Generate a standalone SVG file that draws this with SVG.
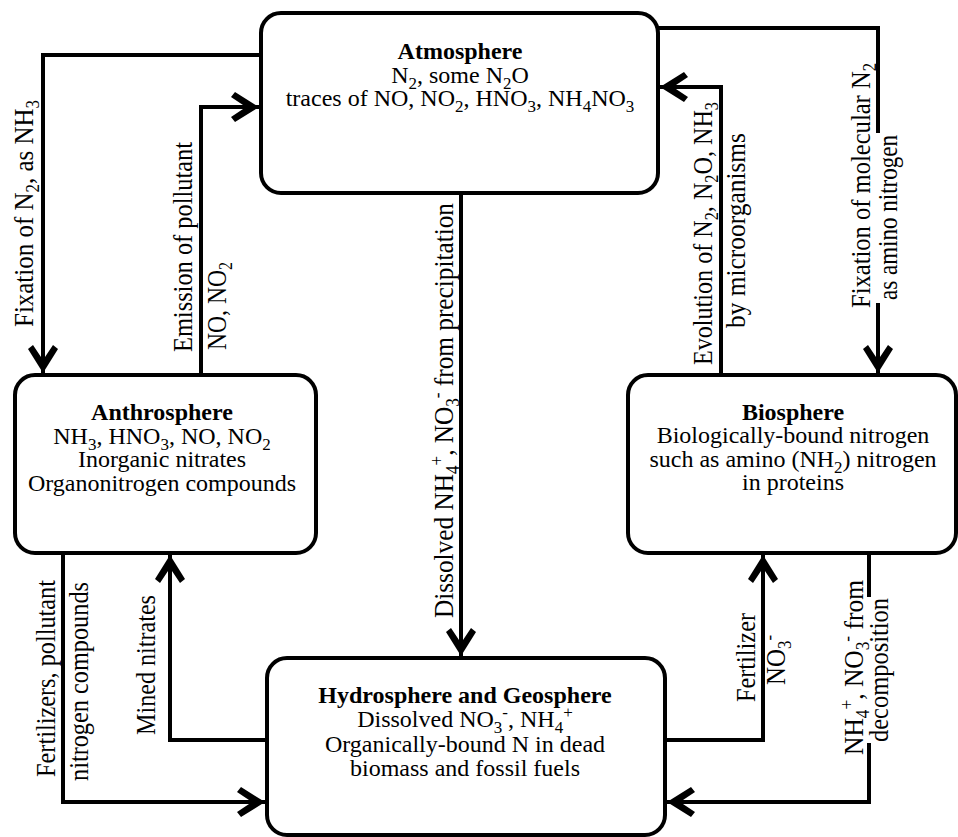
<svg xmlns="http://www.w3.org/2000/svg" width="958" height="837" viewBox="0 0 958 837">
<style>
.box{fill:#fff;stroke:#000;stroke-width:4}
.ttl{font-family:'Liberation Serif','Times New Roman','DejaVu Serif',serif;font-size:24px;font-weight:bold;text-anchor:middle;fill:#000}
.bt{font-family:'Liberation Serif','Times New Roman','DejaVu Serif',serif;font-size:24px;text-anchor:middle;fill:#000}
.con{fill:none;stroke:#000;stroke-width:4;stroke-linejoin:miter}
.lbl{font-family:'Liberation Serif','Times New Roman','DejaVu Serif',serif;font-size:28px;fill:#000}
.sub{font-size:17px;baseline-shift:-6px}
.sup{font-size:17px;baseline-shift:9px}
.lsub{font-size:19px;baseline-shift:-6px}
.lsup{font-size:19px;baseline-shift:10px}
</style>
<defs>
<marker id="ah" markerUnits="userSpaceOnUse" markerWidth="32" markerHeight="34" refX="30" refY="17" orient="auto" overflow="visible">
<path d="M30,17 L6,2 L2,7 L17,17 L2,27 L6,32 Z" fill="#000"/>
</marker>
</defs>

<g id="connectors">
<path class="con" d="M261,55 H43 V373" marker-end="url(#ah)"/>
<path class="con" d="M201,375 V107 H259" marker-end="url(#ah)"/>
<path class="con" d="M658,28 H878 V373" marker-end="url(#ah)"/>
<path class="con" d="M721,375 V87 H660" marker-end="url(#ah)"/>
<path class="con" d="M461,193 V656" marker-end="url(#ah)"/>
<path class="con" d="M63,553 V802 H265" marker-end="url(#ah)"/>
<path class="con" d="M267,740 H170 V555" marker-end="url(#ah)"/>
<path class="con" d="M665,740 H763 V555" marker-end="url(#ah)"/>
<path class="con" d="M869,553 V802 H667" marker-end="url(#ah)"/>
</g>

<g id="atmosphere">
<rect class="box" x="261" y="13" width="397" height="180" rx="20"/>
<text class="ttl" x="460" y="59">Atmosphere</text>
<text class="bt" x="460" y="83">N<tspan class="sub">2</tspan>, some N<tspan class="sub">2</tspan>O</text>
<text class="bt" x="460" y="106">traces of NO, NO<tspan class="sub">2</tspan>, HNO<tspan class="sub">3</tspan>, NH<tspan class="sub">4</tspan>NO<tspan class="sub">3</tspan></text>
</g>

<g id="anthrosphere">
<rect class="box" x="15" y="375" width="301" height="178" rx="20"/>
<text class="ttl" x="162" y="420">Anthrosphere</text>
<text class="bt" x="162" y="444">NH<tspan class="sub">3</tspan>, HNO<tspan class="sub">3</tspan>, NO, NO<tspan class="sub">2</tspan></text>
<text class="bt" x="162" y="467">Inorganic nitrates</text>
<text class="bt" x="162" y="491">Organonitrogen compounds</text>
</g>

<g id="biosphere">
<rect class="box" x="628" y="375" width="328" height="178" rx="20"/>
<text class="ttl" x="793" y="420">Biosphere</text>
<text class="bt" x="793" y="443">Biologically-bound nitrogen</text>
<text class="bt" x="793" y="467">such as amino (NH<tspan class="sub">2</tspan>) nitrogen</text>
<text class="bt" x="793" y="490">in proteins</text>
</g>

<g id="hydrosphere">
<rect class="box" x="267" y="658" width="398" height="177" rx="20"/>
<text class="ttl" x="465" y="703">Hydrosphere and Geosphere</text>
<text class="bt" x="465" y="727">Dissolved NO<tspan class="sub">3</tspan><tspan class="sup">-</tspan>, NH<tspan class="sub">4</tspan><tspan class="sup">+</tspan></text>
<text class="bt" x="465" y="752">Organically-bound N in dead</text>
<text class="bt" x="465" y="776">biomass and fossil fuels</text>
</g>

<g id="labels">
<rect x="874" y="133" width="27" height="170" fill="#fff"/>
<rect x="866" y="597" width="27" height="146" fill="#fff"/>
<text class="lbl" transform="translate(33,327) rotate(-90)" textLength="227" lengthAdjust="spacingAndGlyphs">Fixation of N<tspan class="lsub">2</tspan>, as NH<tspan class="lsub">3</tspan></text>
<text class="lbl" transform="translate(192,352) rotate(-90)" textLength="210" lengthAdjust="spacingAndGlyphs">Emission of pollutant</text>
<text class="lbl" transform="translate(226,350) rotate(-90)" textLength="88" lengthAdjust="spacingAndGlyphs">NO, NO<tspan class="lsub">2</tspan></text>
<text class="lbl" transform="translate(712,365) rotate(-90)" textLength="263" lengthAdjust="spacingAndGlyphs">Evolution of N<tspan class="lsub">2</tspan>, N<tspan class="lsub">2</tspan>O, NH<tspan class="lsub">3</tspan></text>
<text class="lbl" transform="translate(745,328) rotate(-90)" textLength="195" lengthAdjust="spacingAndGlyphs">by microorganisms</text>
<text class="lbl" transform="translate(870,308) rotate(-90)" textLength="245" lengthAdjust="spacingAndGlyphs">Fixation of molecular N<tspan class="lsub">2</tspan></text>
<text class="lbl" transform="translate(897,300) rotate(-90)" textLength="165" lengthAdjust="spacingAndGlyphs">as amino nitrogen</text>
<text class="lbl" transform="translate(453,618) rotate(-90)" textLength="415" lengthAdjust="spacingAndGlyphs">Dissolved NH<tspan class="lsub">4</tspan><tspan class="lsup">+</tspan>, NO<tspan class="lsub">3</tspan><tspan class="lsup">-</tspan> from precipitation</text>
<text class="lbl" transform="translate(55,777) rotate(-90)" textLength="197" lengthAdjust="spacingAndGlyphs">Fertilizers, pollutant</text>
<text class="lbl" transform="translate(88,781) rotate(-90)" textLength="199" lengthAdjust="spacingAndGlyphs">nitrogen compounds</text>
<text class="lbl" transform="translate(155,735) rotate(-90)" textLength="140" lengthAdjust="spacingAndGlyphs">Mined nitrates</text>
<text class="lbl" transform="translate(755,702) rotate(-90)" textLength="89" lengthAdjust="spacingAndGlyphs">Fertilizer</text>
<text class="lbl" transform="translate(785,685) rotate(-90)" textLength="50" lengthAdjust="spacingAndGlyphs">NO<tspan class="lsub">3</tspan><tspan class="lsup">-</tspan></text>
<text class="lbl" transform="translate(863,755) rotate(-90)" textLength="175" lengthAdjust="spacingAndGlyphs">NH<tspan class="lsub">4</tspan><tspan class="lsup">+</tspan>, NO<tspan class="lsub">3</tspan><tspan class="lsup">-</tspan> from</text>
<text class="lbl" transform="translate(888,742) rotate(-90)" textLength="144" lengthAdjust="spacingAndGlyphs">decomposition</text>
</g>
</svg>
